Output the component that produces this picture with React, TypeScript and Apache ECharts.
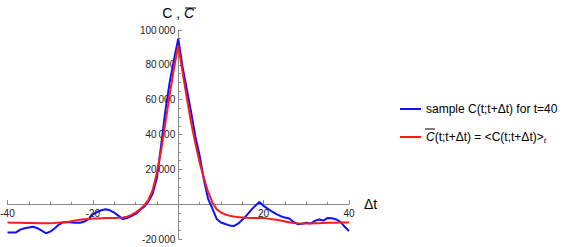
import React, { useEffect, useRef } from "react";
import * as echarts from "echarts";

const lags: number[] = Array.from({ length: 81 }, (_, i) => i - 40);

const sampleValues: number[] = [
  -16300, -16300, -16200, -14600, -13800, -13400, -13000, -13800, -15200, -16700,
  -15800, -14000, -11800, -10400, -10200, -10500, -10700, -10700, -10000, -8600,
  -5800, -4500, -3500, -2900, -3500, -4800, -6700, -8600, -8000, -6800,
  -5600, -3500, -1500, 1500, 6000, 15000, 34000, 54000, 70000, 83000,
  95000,
  79000, 66000, 53000, 39000, 28000, 14000, 3000, -2500, -8500, -10500,
  -11400, -12200, -12600, -11200, -9000, -6400, -3600, -1000, 1200, -1000,
  -2700, -4300, -5700, -6900, -7700, -8200, -10200, -11500, -11200, -10700,
  -11100, -9600, -8800, -9400, -7900, -8100, -8800, -10200, -13000, -15500,
];

const meanValues: number[] = [
  -10500, -10600, -10700, -10700, -10800, -10800, -10800, -10900, -10900, -10900,
  -10900, -10800, -10600, -10400, -10200, -9800, -9400, -9000, -8700, -8500,
  -8300, -8200, -8100, -8000, -8000, -7900, -7800, -7600, -7200, -6200,
  -4800, -3000, -800, 2500, 8000, 18000, 31000, 47000, 63000, 78000,
  91000,
  76000, 61000, 47000, 35000, 24000, 15000, 7000, 1000, -3000, -4800,
  -5900, -6600, -7100, -7400, -7600, -7800, -7900, -7900, -7900, -8000,
  -8300, -8700, -9000, -9400, -9900, -10400, -10800, -11000, -11100, -11100,
  -11100, -11000, -10900, -10800, -10700, -10600, -10600, -10500, -10500, -10500,
];

const xTickLabels: Record<number, string> = { [-40]: "-40", [-20]: "-20", 20: "20", 40: "40" };
const yTickLabels: Record<number, string> = {
  [-20000]: "-20\u2009000",
  20000: "20\u2009000",
  40000: "40\u2009000",
  60000: "60\u2009000",
  80000: "80\u2009000",
  100000: "100\u2009000",
};

const FONT = "'Liberation Sans', Arial, sans-serif";
const AXIS = "#8a8a8a";

const X_MIN = -40;
const X_MAX = 40;
const Y_MIN = -20000;
const Y_MAX = 100000;
const G_LEFT = 7.5;
const G_TOP = 30;
const G_W = 341.5;
const G_H = 209;

export default function App() {
  const ref = useRef<HTMLDivElement>(null);
  useEffect(() => {
    if (!ref.current) return;
    const chart = echarts.init(ref.current, undefined, { renderer: "svg" });
    // move axes to cross at the origin (layout only)
    const zeroY = G_TOP + (G_H * Y_MAX) / (Y_MAX - Y_MIN);
    const zeroX = G_LEFT + (G_W * (0 - X_MIN)) / (X_MAX - X_MIN);
    const xOffset = -(G_TOP + G_H - zeroY);
    const yOffset = -(zeroX - G_LEFT);
    const option: any = {
      animation: false,
      grid: {
        left: G_LEFT,
        top: G_TOP,
        width: G_W,
        height: G_H,
        containLabel: false,
        outerBoundsMode: "none",
      },
      xAxis: {
        type: "value",
        position: "bottom",
        offset: xOffset,
        min: X_MIN,
        max: X_MAX,
        interval: 20,
        name: "Δt",
        nameLocation: "end",
        nameGap: 15,
        nameTextStyle: { fontSize: 14, color: "#000", fontFamily: FONT },
        axisLine: { onZero: false, lineStyle: { color: AXIS, width: 1 } },
        axisTick: { show: true, inside: true, length: 4, lineStyle: { color: AXIS } },
        minorTick: { show: true, splitNumber: 4, length: 2.5, lineStyle: { color: AXIS } },
        splitLine: { show: false },
        minorSplitLine: { show: false },
        axisLabel: {
          formatter: (v: number) => xTickLabels[v] ?? "",
          fontSize: 10,
          color: "#222",
          fontFamily: FONT,
          margin: 4,
          showMinLabel: true,
          showMaxLabel: true,
        },
      },
      yAxis: {
        type: "value",
        position: "left",
        offset: yOffset,
        min: Y_MIN,
        max: Y_MAX,
        interval: 20000,
        name: "{a|C , }{b|C}",
        nameLocation: "end",
        nameGap: 10,
        nameTextStyle: {
          color: "#000",
          fontFamily: FONT,
          rich: {
            a: { fontSize: 14, fontFamily: FONT, color: "#000" },
            b: { fontSize: 14, fontFamily: FONT, fontStyle: "italic", color: "#000" },
          },
        },
        axisLine: { onZero: false, lineStyle: { color: AXIS, width: 1 } },
        axisTick: { show: true, inside: true, length: 4, lineStyle: { color: AXIS } },
        minorTick: { show: true, splitNumber: 4, length: 2.5, lineStyle: { color: AXIS } },
        splitLine: { show: false },
        minorSplitLine: { show: false },
        axisLabel: {
          formatter: (v: number) => yTickLabels[v] ?? "",
          fontSize: 10,
          color: "#222",
          fontFamily: FONT,
          margin: 3,
          showMinLabel: true,
          showMaxLabel: true,
        },
      },
      legend: {
        orient: "vertical",
        left: 395,
        top: 98,
        itemWidth: 21,
        itemHeight: 2,
        itemGap: 16,
        icon: "rect",
        selectedMode: false,
        data: ["sample", "mean"],
        formatter: (name: string) =>
          name === "sample"
            ? "sample C(t;t+Δt) for t=40"
            : "{i|C}(t;t+Δt) = <C(t;t+Δt)>{s|t}",
        textStyle: {
          fontSize: 12,
          color: "#000",
          fontFamily: FONT,
          rich: {
            i: { fontSize: 12, fontStyle: "italic", fontFamily: FONT, color: "#000" },
            s: {
              fontSize: 8,
              fontStyle: "italic",
              fontFamily: FONT,
              color: "#000",
              verticalAlign: "bottom",
              padding: [6, 0, 0, 0],
            },
          },
        },
      },
      graphic: [
        {
          type: "line",
          shape: { x1: 185, y1: 8, x2: 196, y2: 8 },
          style: { stroke: "#000", lineWidth: 1 },
        },
        {
          type: "line",
          shape: { x1: 425, y1: 129, x2: 435, y2: 129 },
          style: { stroke: "#000", lineWidth: 1 },
        },
      ],
      series: [
        {
          name: "sample",
          type: "line",
          data: lags.map((t, i) => [t, sampleValues[i]]),
          showSymbol: false,
          symbol: "none",
          lineStyle: { color: "#1010ff", width: 2 },
          itemStyle: { color: "#1010ff" },
          z: 2,
        },
        {
          name: "mean",
          type: "line",
          data: lags.map((t, i) => [t, meanValues[i]]),
          showSymbol: false,
          symbol: "none",
          lineStyle: { color: "#ff1a1a", width: 2 },
          itemStyle: { color: "#ff1a1a" },
          z: 3,
        },
      ],
    };
    chart.setOption(option);
    return () => chart.dispose();
  }, []);
  return (
    <div
      ref={ref}
      style={{ position: "fixed", left: 0, top: 0, width: 581, height: 247, background: "#fff" }}
    />
  );
}
